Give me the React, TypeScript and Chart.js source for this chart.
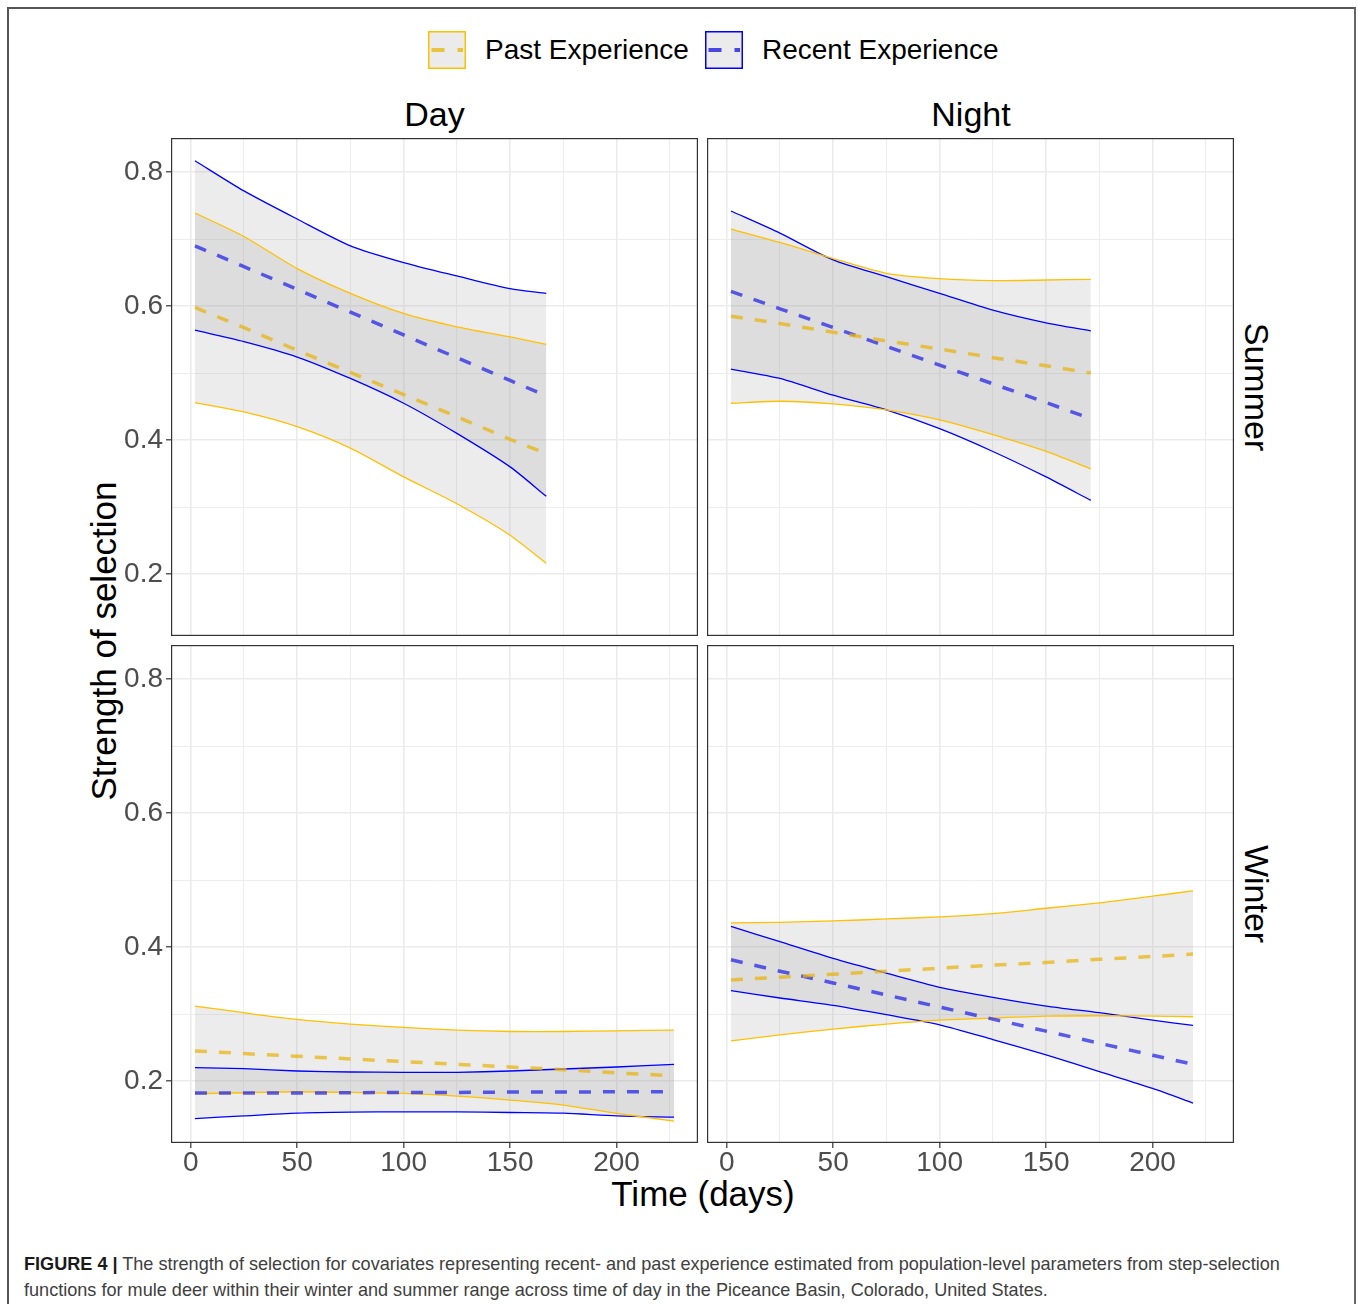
import React, { useEffect, useRef } from "react";
import { Chart, registerables } from "chart.js";

Chart.register(...registerables);

const FONT = '"Liberation Sans", Arial, Helvetica, sans-serif';

// ---------- Data ----------
// Summer / Day
const SD_DAYS = [2, 25, 50, 75, 100, 125, 150, 167];
const SD_PAST_MEAN = [0.598, 0.568, 0.534, 0.501, 0.468, 0.435, 0.401, 0.38];
const SD_PAST_LO = [0.456, 0.442, 0.42, 0.388, 0.345, 0.305, 0.258, 0.216];
const SD_PAST_HI = [0.739, 0.704, 0.656, 0.619, 0.589, 0.569, 0.554, 0.543];
const SD_RECENT_MEAN = [0.69, 0.659, 0.625, 0.591, 0.557, 0.523, 0.489, 0.466];
const SD_RECENT_LO = [0.564, 0.547, 0.524, 0.492, 0.455, 0.41, 0.36, 0.316];
const SD_RECENT_HI = [0.817, 0.772, 0.73, 0.69, 0.665, 0.645, 0.626, 0.619];

// Summer / Night
const SN_DAYS = [2, 25, 50, 75, 100, 125, 150, 171];
const SN_PAST_MEAN = [0.585, 0.574, 0.561, 0.548, 0.536, 0.523, 0.511, 0.5];
const SN_PAST_LO = [0.455, 0.458, 0.454, 0.445, 0.43, 0.408, 0.383, 0.357];
const SN_PAST_HI = [0.715, 0.695, 0.671, 0.649, 0.641, 0.638, 0.639, 0.64];
const SN_RECENT_MEAN = [0.622, 0.596, 0.568, 0.54, 0.512, 0.484, 0.456, 0.432];
const SN_RECENT_LO = [0.506, 0.492, 0.467, 0.445, 0.417, 0.383, 0.345, 0.31];
const SN_RECENT_HI = [0.742, 0.709, 0.669, 0.644, 0.619, 0.594, 0.575, 0.563];

// Winter / Day
const WD_DAYS = [2, 25, 50, 75, 100, 125, 150, 175, 200, 227];
const WD_PAST_MEAN = [0.245, 0.241, 0.237, 0.233, 0.229, 0.225, 0.221, 0.217, 0.212, 0.208];
const WD_PAST_LO = [0.181, 0.1825, 0.184, 0.183, 0.1816, 0.1776, 0.1716, 0.1642, 0.1518, 0.1403];
const WD_PAST_HI = [0.312, 0.302, 0.292, 0.285, 0.28, 0.276, 0.274, 0.274, 0.275, 0.276];
const WD_RECENT_MEAN = [0.182, 0.182, 0.182, 0.1825, 0.183, 0.183, 0.1835, 0.1835, 0.184, 0.184];
const WD_RECENT_LO = [0.144, 0.148, 0.152, 0.1535, 0.154, 0.154, 0.153, 0.152, 0.148, 0.146];
const WD_RECENT_HI = [0.22, 0.2185, 0.215, 0.2135, 0.213, 0.213, 0.215, 0.218, 0.221, 0.225];

// Winter / Night
const WN_DAYS = [2, 25, 50, 75, 100, 125, 150, 175, 200, 219];
const WN_PAST_MEAN = [0.351, 0.355, 0.3595, 0.364, 0.3685, 0.373, 0.377, 0.3817, 0.386, 0.3895];
const WN_PAST_LO = [0.26, 0.269, 0.2776, 0.285, 0.291, 0.294, 0.297, 0.2975, 0.297, 0.296];
const WN_PAST_HI = [0.436, 0.437, 0.439, 0.442, 0.445, 0.45, 0.458, 0.466, 0.476, 0.484];
const WN_RECENT_MEAN = [0.381, 0.364, 0.3465, 0.3285, 0.3105, 0.2925, 0.2745, 0.2565, 0.2385, 0.225];
const WN_RECENT_LO = [0.335, 0.324, 0.313, 0.299, 0.284, 0.262, 0.239, 0.214, 0.189, 0.167];
const WN_RECENT_HI = [0.431, 0.408, 0.383, 0.361, 0.34, 0.325, 0.312, 0.302, 0.291, 0.283];

// Axis ticks
const X_MIN = -9.25;
const X_MAX = 238.25;
const Y_MIN = 0.1075;
const Y_MAX = 0.851;
const X_LABELS = [0, 50, 100, 150, 200];
const Y_LABELS = ["0.2", "0.4", "0.6", "0.8"];

const SERIES_NAMES = ["Past Experience", "Recent Experience"];

// ---------- Styles ----------
const PAST_LINE = "#FFC000";
const RECENT_LINE = "#0000FF";
const PAST_DASH = "rgba(232,180,20,0.75)";
const RECENT_DASH = "rgba(40,40,230,0.75)";
const RIBBON = "rgba(160,160,160,0.2)";
const GRID = "#EBEBEB";

const PANEL_W = 527;
const PANEL_H = 498;
const Y_AXIS_W = 70;
const X_AXIS_H = 45;

const framePlugin = {
  id: "panelFrame",
  afterDraw(chart: any) {
    const { ctx, chartArea: a } = chart;
    ctx.save();
    ctx.strokeStyle = "#333333";
    ctx.lineWidth = 1.2;
    ctx.strokeRect(a.left + 0.6, a.top + 0.6, a.right - a.left - 1.2, a.bottom - a.top - 1.2);
    ctx.restore();
  },
};

const noPad = (s: any) => {
  s.paddingTop = 0;
  s.paddingBottom = 0;
  s.paddingLeft = 0;
  s.paddingRight = 0;
};

type PanelProps = {
  left: number;
  top: number;
  showX: boolean;
  showY: boolean;
  days: number[];
  pastMean: number[];
  pastLo: number[];
  pastHi: number[];
  recentMean: number[];
  recentLo: number[];
  recentHi: number[];
};

function Panel(p: PanelProps) {
  const ref = useRef<HTMLCanvasElement | null>(null);
  const yW = p.showY ? Y_AXIS_W : 0;
  const xH = p.showX ? X_AXIS_H : 0;
  const cw = yW + PANEL_W;
  const ch = PANEL_H + xH;

  useEffect(() => {
    if (!ref.current) return;
    const pts = (arr: number[]) => p.days.map((d, i) => ({ x: d, y: arr[i] }));
    const ci = (arr: number[], color: string, fill: any) => ({
      data: pts(arr),
      borderColor: color,
      borderWidth: 1.3,
      pointRadius: 0,
      tension: 0.25,
      fill,
      backgroundColor: RIBBON,
      order: 2,
    });
    const mean = (arr: number[], color: string, label: string) => ({
      label,
      data: pts(arr),
      borderColor: color,
      borderWidth: 3.5,
      borderDash: [12, 12],
      pointRadius: 0,
      tension: 0,
      fill: false,
      order: 1,
    });
    const xMajor = (v: number) => Math.round(v) % 50 === 0;
    const yMajor = (v: number) => Math.round(v * 10) % 2 === 0;
    const chart = new Chart(ref.current, {
      type: "line",
      data: {
        datasets: [
          ci(p.pastLo, PAST_LINE, false),
          ci(p.pastHi, PAST_LINE, "-1"),
          ci(p.recentLo, RECENT_LINE, false),
          ci(p.recentHi, RECENT_LINE, "-1"),
          mean(p.pastMean, PAST_DASH, SERIES_NAMES[0]),
          mean(p.recentMean, RECENT_DASH, SERIES_NAMES[1]),
        ] as any,
      },
      options: {
        animation: false,
        responsive: false,
        maintainAspectRatio: false,
        devicePixelRatio: 1,
        layout: { padding: 0 },
        plugins: {
          legend: { display: false },
          tooltip: { enabled: false },
          filler: { drawTime: "beforeDatasetsDraw" },
        } as any,
        scales: {
          x: {
            type: "linear",
            min: X_MIN,
            max: X_MAX,
            bounds: "ticks",
            afterFit: (s: any) => {
              s.height = xH;
              noPad(s);
            },
            border: { display: false },
            grid: {
              color: GRID,
              lineWidth: (c: any) => (xMajor(c.tick.value) ? 1.6 : 0.9),
              drawTicks: p.showX,
              tickLength: 5,
              tickWidth: 1.2,
              tickColor: (c: any) => (xMajor(c.tick.value) ? "#333333" : "rgba(0,0,0,0)"),
            },
            ticks: {
              display: p.showX,
              stepSize: 25,
              includeBounds: false,
              autoSkip: false,
              maxRotation: 0,
              minRotation: 0,
              padding: 1,
              color: "#4D4D4D",
              font: { family: FONT, size: 28, lineHeight: 1 },
              callback: (v: any) => (X_LABELS.includes(Math.round(v)) && Math.abs(v - Math.round(v)) < 1e-6 ? String(Math.round(v)) : ""),
            },
          },
          y: {
            type: "linear",
            min: Y_MIN,
            max: Y_MAX,
            bounds: "ticks",
            afterFit: (s: any) => {
              s.width = yW;
              noPad(s);
            },
            border: { display: false },
            grid: {
              color: GRID,
              lineWidth: (c: any) => (yMajor(c.tick.value) ? 1.6 : 0.9),
              drawTicks: p.showY,
              tickLength: 5,
              tickWidth: 1.2,
              tickColor: (c: any) => (yMajor(c.tick.value) ? "#333333" : "rgba(0,0,0,0)"),
            },
            ticks: {
              display: p.showY,
              stepSize: 0.1,
              includeBounds: false,
              autoSkip: false,
              padding: 3,
              color: "#4D4D4D",
              font: { family: FONT, size: 28, lineHeight: 1 },
              callback: (v: any) => {
                const s = Number(v).toFixed(1);
                return Y_LABELS.includes(s) ? s : "";
              },
            },
          },
        },
      } as any,
      plugins: [framePlugin],
    });
    return () => chart.destroy();
  }, []);

  return (
    <canvas
      ref={ref}
      width={cw}
      height={ch}
      style={{ position: "absolute", left: p.left - yW, top: p.top, width: cw, height: ch }}
    />
  );
}

const txt = (x: number, y: number, size: number, rot = 0): React.CSSProperties => ({
  position: "absolute",
  left: x,
  top: y,
  transform: `translate(-50%, -50%) rotate(${rot}deg)`,
  fontFamily: FONT,
  fontSize: size,
  lineHeight: 1,
  whiteSpace: "nowrap",
  color: "#000",
});

function LegendKey({ x, line, dash }: { x: number; line: string; dash: string }) {
  return (
    <svg style={{ position: "absolute", left: x, top: 31 }} width={38} height={38}>
      <rect x={0.75} y={0.75} width={36.5} height={36.5} fill="#EBEBEB" stroke={line} strokeWidth={1.5} />
      <line x1={3.5} y1={19} x2={35} y2={19} stroke={dash} strokeWidth={4} strokeDasharray="13 13" />
    </svg>
  );
}

const captionStyle = (y: number): React.CSSProperties => ({
  position: "absolute",
  left: 24,
  top: y,
  transform: "translateY(-50%)",
  fontFamily: FONT,
  fontSize: 18.1,
  lineHeight: 1,
  whiteSpace: "nowrap",
  color: "#404040",
});

export default function App() {
  return (
    <div style={{ position: "absolute", left: 0, top: 0, width: 1358, height: 1304, background: "#fff", overflow: "hidden" }}>
      <div
        style={{
          position: "absolute",
          left: 7,
          top: 7,
          width: 1349,
          height: 1297,
          boxSizing: "border-box",
          borderTop: "2px solid #555",
          borderLeft: "2px solid #555",
          borderRight: "2px solid #666",
        }}
      />
      {/* legend */}
      <LegendKey x={428} line={PAST_LINE} dash="#E8C340" />
      <div style={{ ...txt(0, 50, 28), transform: "translate(0,-50%)", left: 485 }}>{SERIES_NAMES[0]}</div>
      <LegendKey x={705} line={RECENT_LINE} dash="#4848E0" />
      <div style={{ ...txt(0, 50, 28), transform: "translate(0,-50%)", left: 762 }}>{SERIES_NAMES[1]}</div>

      {/* strips */}
      <div style={txt(434.5, 114, 34)}>Day</div>
      <div style={txt(971, 114, 34)}>Night</div>
      <div style={txt(1257, 387, 34, 90)}>Summer</div>
      <div style={txt(1257, 894, 34, 90)}>Winter</div>

      {/* axis titles */}
      <div style={txt(103, 641, 35, -90)}>Strength of selection</div>
      <div style={txt(703, 1193, 35)}>Time (days)</div>

      <Panel left={171} top={138} showX={false} showY={true} days={SD_DAYS} pastMean={SD_PAST_MEAN} pastLo={SD_PAST_LO} pastHi={SD_PAST_HI} recentMean={SD_RECENT_MEAN} recentLo={SD_RECENT_LO} recentHi={SD_RECENT_HI} />
      <Panel left={707} top={138} showX={false} showY={false} days={SN_DAYS} pastMean={SN_PAST_MEAN} pastLo={SN_PAST_LO} pastHi={SN_PAST_HI} recentMean={SN_RECENT_MEAN} recentLo={SN_RECENT_LO} recentHi={SN_RECENT_HI} />
      <Panel left={171} top={645} showX={true} showY={true} days={WD_DAYS} pastMean={WD_PAST_MEAN} pastLo={WD_PAST_LO} pastHi={WD_PAST_HI} recentMean={WD_RECENT_MEAN} recentLo={WD_RECENT_LO} recentHi={WD_RECENT_HI} />
      <Panel left={707} top={645} showX={true} showY={false} days={WN_DAYS} pastMean={WN_PAST_MEAN} pastLo={WN_PAST_LO} pastHi={WN_PAST_HI} recentMean={WN_RECENT_MEAN} recentLo={WN_RECENT_LO} recentHi={WN_RECENT_HI} />

      {/* caption */}
      <div style={captionStyle(1264)}>
        <b style={{ color: "#1a1a1a" }}>FIGURE 4 |</b> The strength of selection for covariates representing recent- and past experience estimated from population-level parameters from step-selection
      </div>
      <div style={captionStyle(1290)}>
        functions for mule deer within their winter and summer range across time of day in the Piceance Basin, Colorado, United States.
      </div>
    </div>
  );
}
